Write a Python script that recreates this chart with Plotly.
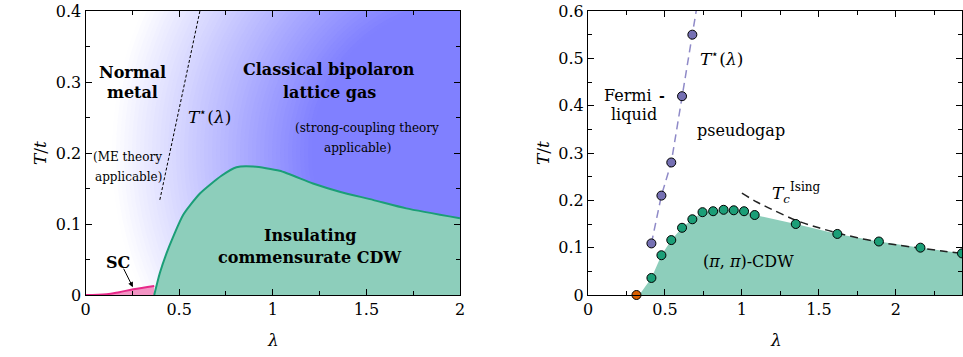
import plotly.graph_objects as go

W, H = 963, 357
SERIF = "DejaVu Serif"

# ---------------- data: left panel ----------------
lam_cdw_left = [0.367, 0.397, 0.433, 0.468, 0.522, 0.611, 0.726, 0.806, 0.895, 1.037, 1.215, 1.357, 1.535, 1.713, 2.0]
T_cdw_left = [0.0, 0.031, 0.059, 0.082, 0.113, 0.143, 0.168, 0.180, 0.181, 0.175, 0.157, 0.1455, 0.134, 0.122, 0.108]
lam_sc = [0.0, 0.113, 0.18, 0.255, 0.367]
T_sc = [0.0, 0.001, 0.004, 0.008, 0.0127]
lam_tstar_left = [0.397, 0.611]
T_tstar_left = [0.134, 0.40]

# ---------------- data: right panel ----------------
lam_tstar = [0.412, 0.477, 0.541, 0.611, 0.678]
T_tstar = [0.109, 0.210, 0.280, 0.420, 0.550]
lam_tstar_line = [0.412, 0.477, 0.541, 0.611, 0.678, 0.703]
T_tstar_line = [0.109, 0.210, 0.280, 0.420, 0.550, 0.600]
lam_cdw = [0.412, 0.477, 0.541, 0.611, 0.678, 0.744, 0.813, 0.881, 0.947, 1.014, 1.083, 1.350, 1.620, 1.890, 2.160, 2.430]
T_cdw = [0.036, 0.084, 0.116, 0.142, 0.160, 0.175, 0.177, 0.180, 0.179, 0.177, 0.169, 0.150, 0.129, 0.113, 0.100, 0.088]
lam_cdw_start = [0.333]
T_cdw_start = [0.0]
lam_ising = [1.0, 1.1, 1.2, 1.35, 1.5, 1.62, 1.75, 1.89, 2.0, 2.16, 2.3, 2.43]
T_ising = [0.215, 0.196, 0.180, 0.158, 0.142, 0.131, 0.121, 0.112, 0.106, 0.099, 0.093, 0.088]
lam_sc_onset = [0.315]
T_sc_onset = [0.0]

GREEN = "#1b9e77"
GREEN_FILL = "#8dcebb"
PURPLE = "#7570b3"
ORANGE = "#d95f02"
PINK = "#e7298a"
PINK_FILL = "#f394c4"

fig = go.Figure()

# left panel
fig.add_trace(go.Scatter(x=lam_sc, y=T_sc, mode="lines", fill="tozeroy",
                         fillcolor=PINK_FILL, line=dict(color=PINK, width=2, shape="spline"),
                         xaxis="x", yaxis="y", showlegend=False))
fig.add_trace(go.Scatter(x=lam_cdw_left, y=T_cdw_left, mode="lines", fill="tozeroy",
                         fillcolor=GREEN_FILL, line=dict(color=GREEN, width=2, shape="spline", smoothing=0.6),
                         xaxis="x", yaxis="y", showlegend=False))
fig.add_trace(go.Scatter(x=lam_tstar_left, y=T_tstar_left, mode="lines",
                         line=dict(color="black", width=1, dash="3px,2px"),
                         xaxis="x", yaxis="y", showlegend=False))

# right panel
fig.add_trace(go.Scatter(x=lam_cdw_start + lam_cdw, y=T_cdw_start + T_cdw, mode="lines", fill="tozeroy",
                         fillcolor=GREEN_FILL, line=dict(width=0, color=GREEN_FILL),
                         xaxis="x2", yaxis="y2", showlegend=False))
fig.add_trace(go.Scatter(x=lam_ising, y=T_ising, mode="lines",
                         line=dict(color="#222222", width=1.5, dash="8px,5px", shape="spline"),
                         xaxis="x2", yaxis="y2", showlegend=False))
fig.add_trace(go.Scatter(x=lam_tstar_line, y=T_tstar_line, mode="lines",
                         line=dict(color="#8f8ac8", width=1.5, dash="8px,5px"),
                         xaxis="x2", yaxis="y2", showlegend=False))
fig.add_trace(go.Scatter(x=lam_tstar, y=T_tstar, mode="markers",
                         marker=dict(size=9, color=PURPLE, line=dict(color="black", width=1)),
                         xaxis="x2", yaxis="y2", showlegend=False))
fig.add_trace(go.Scatter(x=lam_cdw, y=T_cdw, mode="markers",
                         marker=dict(size=9, color=GREEN, line=dict(color="black", width=1)),
                         xaxis="x2", yaxis="y2", showlegend=False))
fig.add_trace(go.Scatter(x=lam_sc_onset, y=T_sc_onset, mode="markers", cliponaxis=False,
                         marker=dict(size=9, color=ORANGE, line=dict(color="black", width=1)),
                         xaxis="x2", yaxis="y2", showlegend=False))

# background radial gradient (style only) for the left panel
shapes = []
r = 380
while r >= 140:
    t = min(1.0, max(0.0, (350.0 - r) / 200.0))
    c = (int(round(255 - 127 * t)), int(round(255 - 127 * t)), 255)
    shapes.append(dict(type="circle", xref="x", yref="y", xsizemode="pixel", ysizemode="pixel",
                       xanchor=2.0, yanchor=0.2, x0=-r, x1=r, y0=-r, y1=r,
                       fillcolor="rgb(%d,%d,%d)" % c, line=dict(width=0), layer="below"))
    r -= 4

def px(x):
    return x / W

def py(y):
    return 1 - y / H

def ann(text, x, y, size=16, xanchor="center", angle=0):
    return dict(text=text, x=px(x), y=py(y), xref="paper", yref="paper", showarrow=False,
                xanchor=xanchor, yanchor="middle", textangle=angle,
                font=dict(family=SERIF, size=size, color="black"))

anns = [
    ann("<b>Normal</b>", 132, 73, 16),
    ann("<b>metal</b>", 132, 93, 16),
    ann("<i>T</i><sup>⋆</sup>(<i>λ</i>)", 209, 116, 17),
    ann("(ME theory", 127, 157, 12),
    ann("applicable)", 128, 177, 12),
    ann("<b>Classical bipolaron</b>", 329, 70, 16),
    ann("<b>lattice gas</b>", 329, 93, 16),
    ann("(strong-coupling theory", 367, 128, 12),
    ann("applicable)", 357, 148, 12),
    ann("<b>SC</b>", 118, 262, 16),
    ann("<b>Insulating</b>", 310, 235, 16),
    ann("<b>commensurate CDW</b>", 310, 257, 16),
    ann("<i>T</i>/<i>t</i>", 40, 153, 17, angle=-90),
    ann("<i>λ</i>", 273, 340, 17),
    # right panel
    ann("<i>T</i><sup>⋆</sup>(<i>λ</i>)", 721, 58, 17),
    ann("Fermi", 628, 96, 16),
    ann("liquid", 634, 115, 16),
    ann("<b>-</b>", 662, 96, 14),
    ann("pseudogap", 741, 130, 16),
    ann("<i>T</i><sub><i>c</i></sub>", 781, 195, 17),
    ann("Ising", 805, 187, 12),
    ann("(<i>π</i>, <i>π</i>)-CDW", 748, 261, 16),
    ann("<i>T</i>/<i>t</i>", 543, 153, 17, angle=-90),
    ann("<i>λ</i>", 776, 340, 17),
]
# arrow for SC
anns.append(dict(text="", x=0.253, y=0.011, xref="x", yref="y", showarrow=True,
                 ax=-10, ay=-20, axref="pixel", ayref="pixel",
                 arrowhead=2, arrowsize=1, arrowwidth=1, arrowcolor="black"))

axis_common = dict(showline=True, linecolor="black", linewidth=1, mirror="allticks",
                   ticks="inside", ticklen=6, tickwidth=1, tickcolor="black",
                   showgrid=False, zeroline=False, automargin=False,
                   ticklabeloverflow="allow",
                   tickfont=dict(family=SERIF, size=16, color="black"))

fig.update_layout(
    template="none",
    width=W, height=H,
    margin=dict(l=0, r=0, t=0, b=0, pad=0, autoexpand=False),
    paper_bgcolor="white", plot_bgcolor="white",
    xaxis=dict(domain=[px(85.5), px(460)], range=[0, 2], dtick=0.5, anchor="y",
               minor=dict(dtick=0.25, ticks="inside", ticklen=4, tickcolor="black"), **axis_common),
    yaxis=dict(domain=[py(295), py(11)], range=[0, 0.4], dtick=0.1, anchor="x",
               minor=dict(dtick=0.05, ticks="inside", ticklen=4, tickcolor="black"), **axis_common),
    xaxis2=dict(domain=[px(588), px(962)], range=[0, 2.43], dtick=0.5, anchor="y2",
                minor=dict(dtick=0.25, ticks="inside", ticklen=4, tickcolor="black"), **axis_common),
    yaxis2=dict(domain=[py(295), py(11)], range=[0, 0.6], dtick=0.1, anchor="x2",
                minor=dict(dtick=0.05, ticks="inside", ticklen=4, tickcolor="black"), **axis_common),
    shapes=shapes,
    annotations=anns,
)

fig.write_html("out.html", config={"displayModeBar": False},
               post_script="document.body.style.margin='0';document.body.style.overflow='hidden';")
